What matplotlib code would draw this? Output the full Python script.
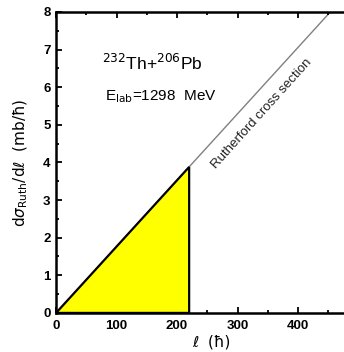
import matplotlib
matplotlib.use("Agg")
import matplotlib.pyplot as plt
from matplotlib.ticker import MultipleLocator

# Rutherford partial cross section, linear in angular momentum
ell_line = [0, 480]
sigma_line = [0, 8.47]

# Region below the grazing angular momentum (filled)
ell_fill = [0, 220, 220]
sigma_fill = [0, 3.88, 0]

x_ticks = [0, 100, 200, 300, 400]
y_ticks = [0, 1, 2, 3, 4, 5, 6, 7, 8]

plt.rcParams['font.family'] = ['Liberation Sans', 'DejaVu Sans']

fig = plt.figure(figsize=(3.44, 3.52), dpi=100)
ax = fig.add_axes([0.163, 0.111, 0.837, 0.855])

ax.fill(ell_fill, sigma_fill, facecolor='#ffff00', edgecolor='black', linewidth=1.6, zorder=2)
ax.plot(ell_line, sigma_line, color='#808080', linewidth=1.0, zorder=1)

ax.set_xlim(0, 476)
ax.set_ylim(0, 8)
ax.set_xticks(x_ticks)
ax.set_yticks(y_ticks)
ax.xaxis.set_minor_locator(MultipleLocator(50))
ax.yaxis.set_minor_locator(MultipleLocator(0.5))

for s in ['left', 'bottom', 'top']:
    ax.spines[s].set_linewidth(1.8)
ax.spines['right'].set_visible(False)

ax.tick_params(which='both', direction='in', top=True, right=False, width=1.3)
ax.tick_params(which='major', length=4, labelsize=9.5)
ax.tick_params(axis='x', which='major', pad=5)
ax.tick_params(axis='y', which='major', pad=4)
ax.tick_params(which='minor', length=2.5)
for lab in ax.get_xticklabels() + ax.get_yticklabels():
    lab.set_fontweight('bold')

ax.set_xlabel('ℓ  (ħ)', fontsize=11, family=['DejaVu Sans'])
ax.xaxis.set_label_coords(0.54, -0.072)
ax.set_ylabel(r'd$\sigma_{\mathrm{Ruth}}$/dℓ  (mb/ħ)', fontsize=11,
              family=['DejaVu Sans'])
ax.yaxis.set_label_coords(-0.09, 0.5)

ax.text(0.16, 0.83, r'$^{232}$Th+$^{206}$Pb', transform=ax.transAxes,
        fontsize=12.5, ha='left', va='center')
ax.text(0.17, 0.72, r'E$_{\mathrm{lab}}$=1298  MeV', transform=ax.transAxes,
        fontsize=11, ha='left', va='center')

ax.text(340, 5.3, 'Rutherford cross section', fontsize=9.5, rotation=48,
        rotation_mode='anchor', ha='center', va='center', color='#222222')

fig.savefig('out.png', dpi=100)
